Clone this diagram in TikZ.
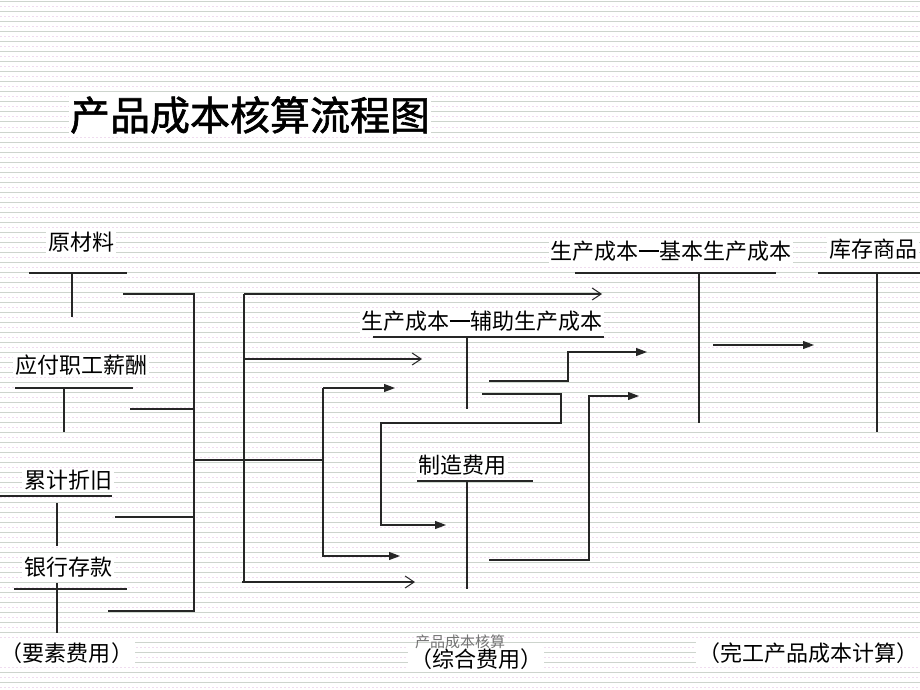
\documentclass[tikz,border=0pt]{standalone}
\usepackage{fontspec}
\newfontfamily\cjk{Noto Sans CJK SC}
\newfontfamily\cjkmed[FakeBold=1.5]{Noto Sans CJK SC}
\newcommand{\longdash}{\rule[0.33em]{0.95em}{0.11em}}
\usetikzlibrary{arrows.meta}
\begin{document}
\begin{tikzpicture}[x=1pt,y=-1pt,
  lbl/.style={font=\cjk\fontsize{22}{24}\selectfont, fill=white, inner sep=2pt, text=black},
  ln/.style={draw=black!85, line width=1.1pt},
  open/.style={ln, -{Straight Barb[length=9pt,width=12pt,line width=1pt]}},
  solid/.style={ln, -{Triangle[length=11pt,width=8pt]}}]
\useasboundingbox (0,0) rectangle (920,690);
\fill[white] (0,0) rectangle (920,690);
% pinstripe background
\foreach \k in {0,...,69} {
  \draw[line width=1pt, color={rgb,255:red,205;green,212;blue,205}] (0,{\k*10+2}) -- (920,{\k*10+2});
  \draw[line width=1pt, color={rgb,255:red,240;green,220;blue,240}, dash pattern=on 2pt off 2pt] (0,{\k*10+7}) -- (920,{\k*10+7});
}
% title
\node[font=\cjkmed\fontsize{40}{44}\selectfont, anchor=center, fill=white, inner sep=1pt] (title) at (250,115) {产品成本核算流程图};

% left column labels
\node[lbl] (ycl) at (81,242) {原材料};
\node[lbl] (xc) at (81,365) {应付职工薪酬};
\node[lbl] (zj) at (68,480) {累计折旧};
\node[lbl] (ck) at (68,567) {银行存款};
\node[lbl] (ysfy) at (67,653) {（要素费用）};

% T accounts left
\draw[ln] (29,273) -- (127,273);
\draw[ln] (72,273) -- (72,317);
\draw[ln] (15,388) -- (133,388);
\draw[ln] (64,388) -- (64,432);
\draw[ln] (0,496) -- (112,496);
\draw[ln] (57,503) -- (57,546);
\draw[ln] (14,589) -- (127,589);
\draw[ln] (57,583) -- (57,633);

% bracket
\coordinate (b1) at (194,294);
\coordinate (b4) at (194,611);
\draw[ln] (123,294) -- (b1) -- (b4) -- (108,611);
\draw[ln] (130,409) -- (194,409);
\draw[ln] (115,517) -- (194,517);
\draw[ln] (194,460) -- (323,460);

% distribution to base / aux / overhead
\draw[ln] (244,294) -- (244,582);
\draw[open] (244,294) -- (602,294);
\draw[open] (244,359) -- (422,359);
\draw[open] (242,582) -- (415,582);
\draw[ln] (323,388) -- (323,556);
\draw[solid] (323,388) -- (395,388);
\draw[solid] (322,556) -- (400,556);

% auxiliary production account
\node[lbl] (fz) at (482,321) {生产成本\longdash 辅助生产成本};
\draw[ln] (373,337) -- (604,337);
\draw[ln] (467,337) -- (467,409);
\draw[solid] (489,381) -- (568,381) -- (568,352) -- (647,352);
\draw[solid] (482,394) -- (561,394) -- (561,423) -- (381,423) -- (381,525) -- (446,525);

% overhead account
\node[lbl] (zz) at (462,465) {制造费用};
\draw[ln] (417,481) -- (533,481);
\draw[ln] (467,481) -- (467,589);
\draw[solid] (489,560) -- (589,560) -- (589,396) -- (639,396);
\node[lbl] (zh) at (476,659) {（综合费用）};
\node[font=\cjk\fontsize{15}{16}\selectfont, text=black!55, inner sep=0pt] (foot) at (460,642) {产品成本核算};

% basic production account
\node[lbl] (jb) at (671,251) {生产成本\longdash 基本生产成本};
\draw[ln] (575,273) -- (776,273);
\draw[ln] (699,273) -- (699,423);
\draw[solid] (713,345) -- (814,345);

% inventory
\node[lbl] (kc) at (873,249) {库存商品};
\draw[ln] (818,273) -- (920,273);
\draw[ln] (877,273) -- (877,432);

\node[lbl] (wg) at (808,653) {（完工产品成本计算）};
\end{tikzpicture}
\end{document}
